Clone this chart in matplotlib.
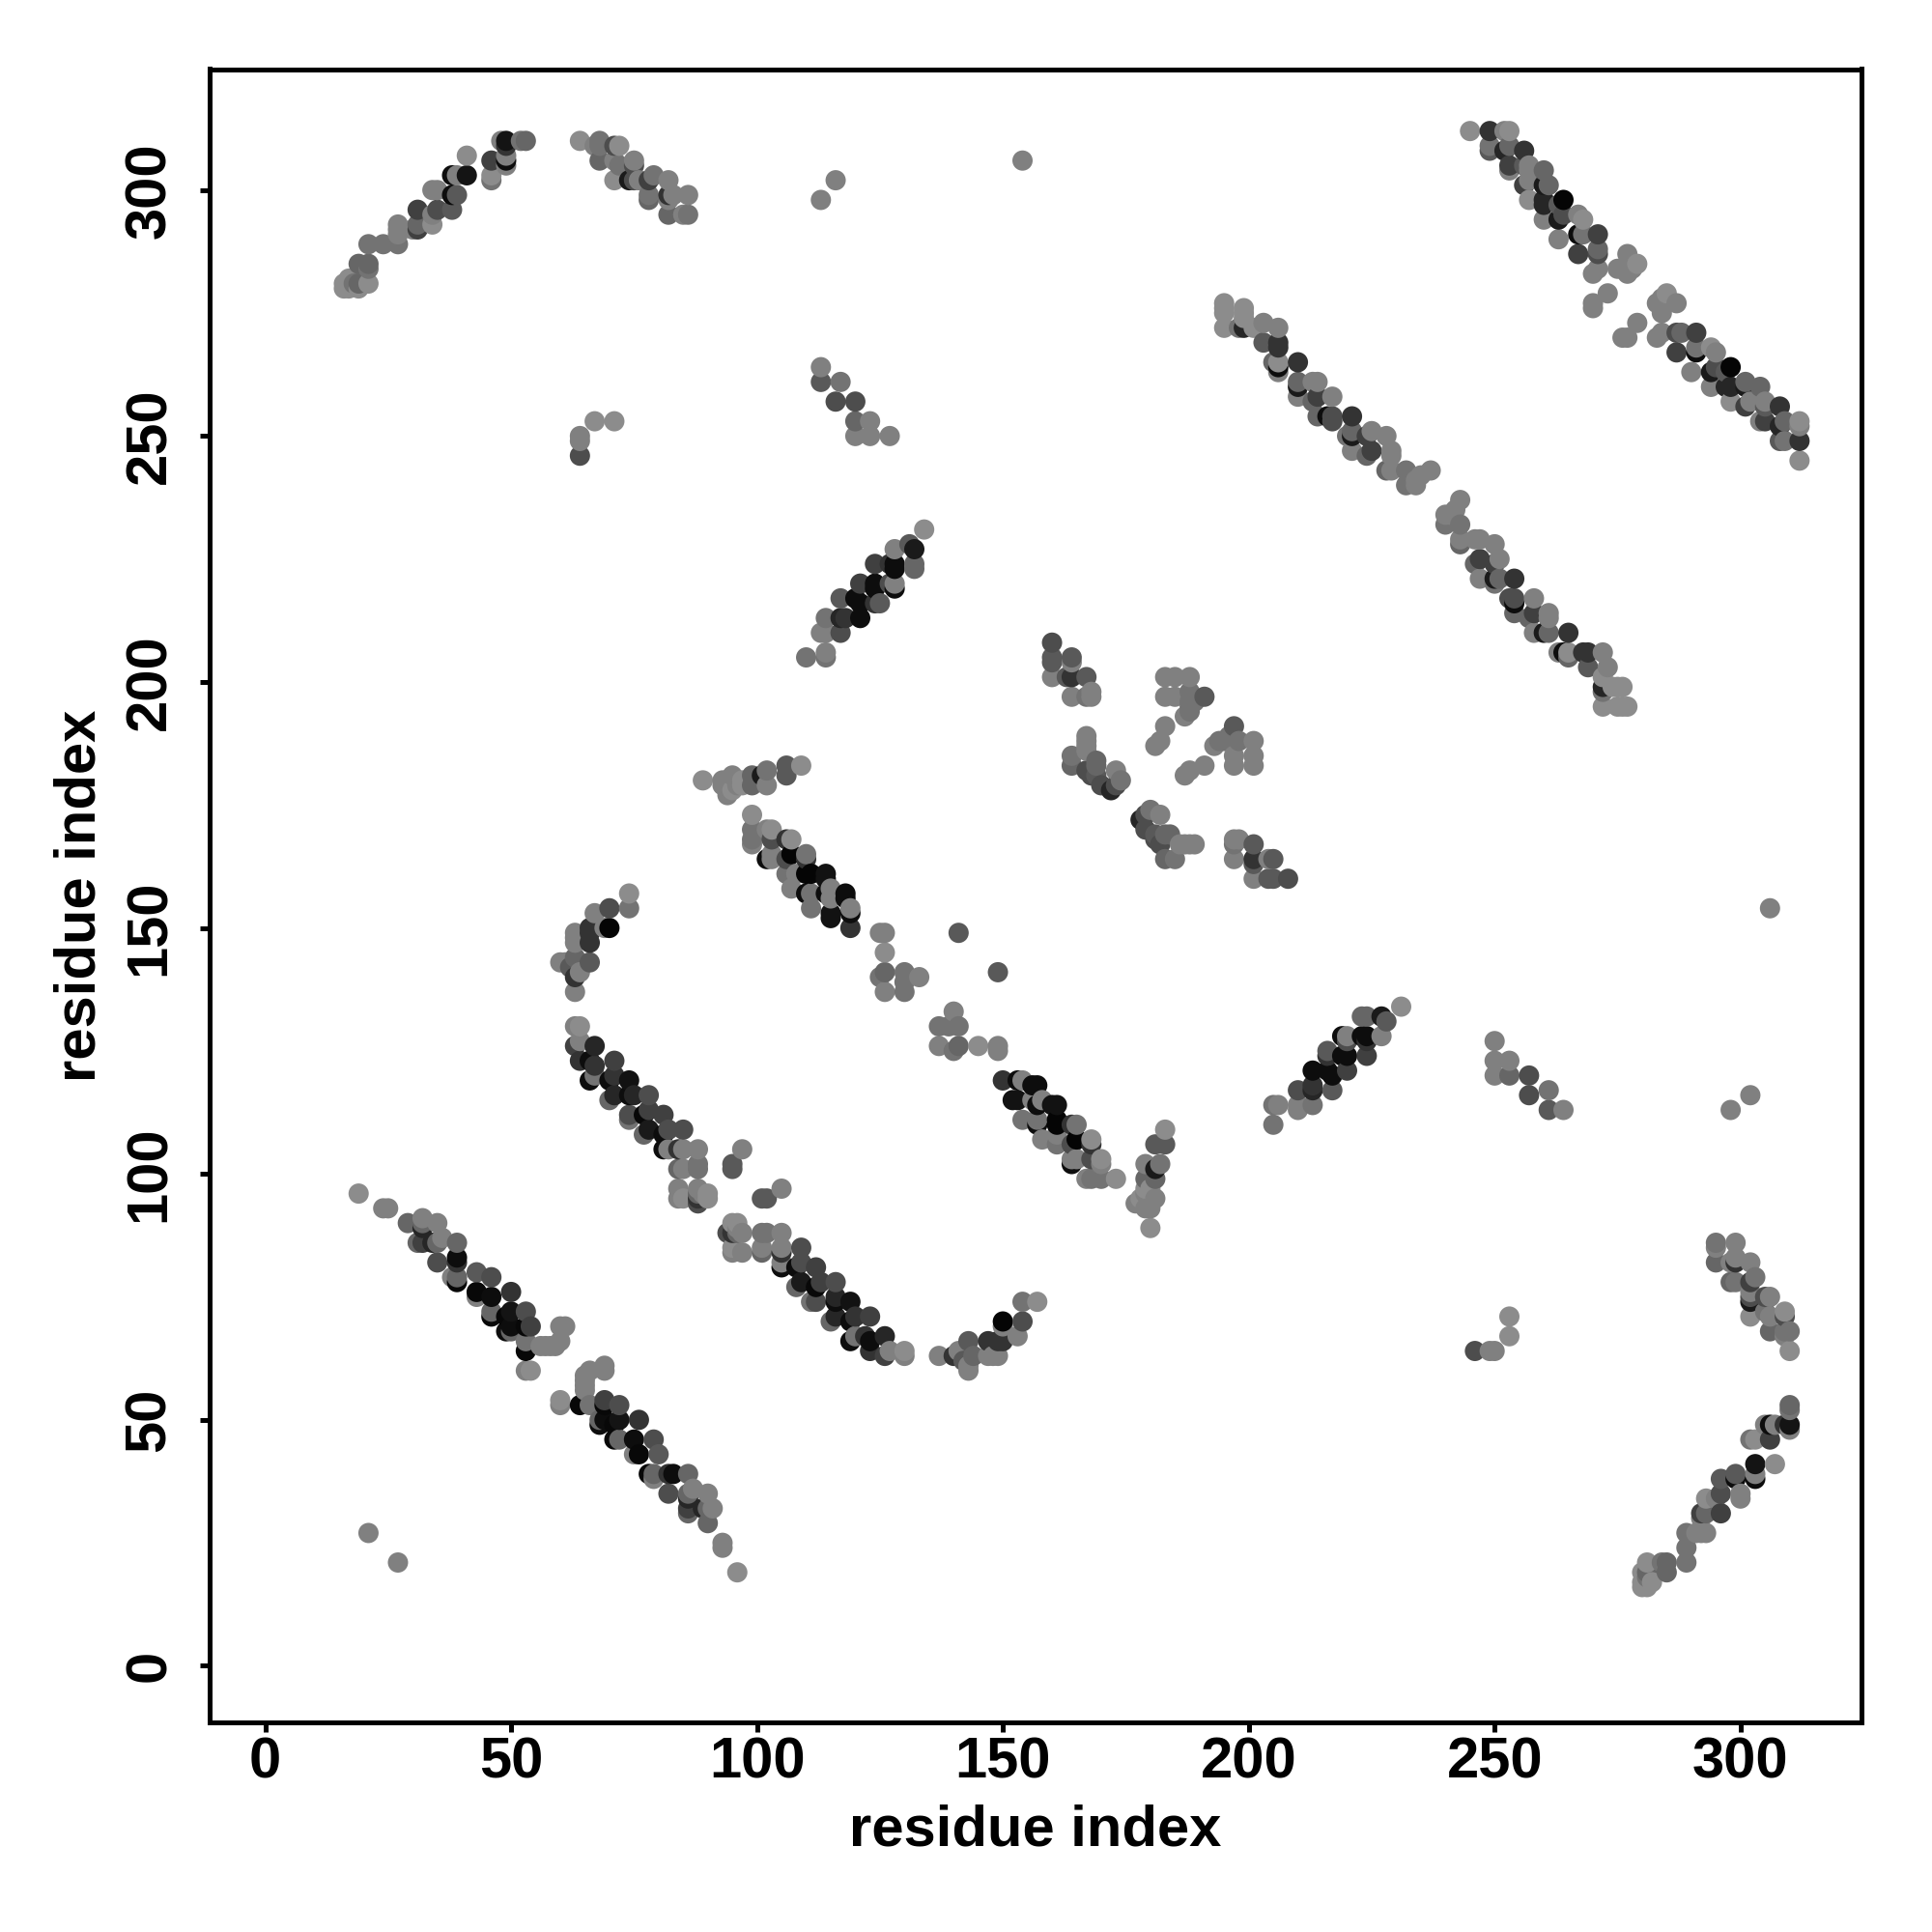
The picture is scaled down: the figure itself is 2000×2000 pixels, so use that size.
import numpy as np
import matplotlib
matplotlib.use("Agg")
import matplotlib.pyplot as plt

plt.rcParams["font.family"] = ["Liberation Sans", "DejaVu Sans"]

TICKS = [0, 50, 100, 150, 200, 250, 300]

strand_n_c = [
    (19, 96, .55), (24, 93, .5), (25, 93, .5), (29, 90, .4), (32, 91, .5), (32, 90, .4), (32, 89, .15),
    (35, 90, .5), (31, 86, .4), (32, 86, .25), (36, 87, .5), (35, 86, .4), (34, 86, .15), (39, 86, .4),
    (39, 83, .05), (39, 82, .2), (35, 82, .3), (39, 79, .4), (38, 79, .5), (39, 78, .03), (43, 80, .35),
    (43, 76, .03), (43, 75, .5), (46, 79, .3), (46, 75, .05), (46, 72, .4), (46, 71, .03), (50, 76, .2),
    (50, 72, .08), (49, 71, .03), (53, 72, .3), (53, 69, .03), (54, 69, .25), (49, 68, .05), (50, 69, .05),
    (50, 68, .4), (53, 66, .45), (53, 64, .03), (56, 65, .5), (57, 65, .5), (58, 65, .5), (59, 65, .5),
    (60, 66, .5), (60, 69, .5), (61, 69, .5), (53, 60, .5), (54, 60, .55),
]
strand_b_c = [
    (63, 130, .5), (64, 130, .55), (64, 127, .5), (63, 126, .25), (67, 126, .15), (64, 123, .2), (67, 122, .2),
    (66, 123, .05), (71, 123, .25), (67, 120, .45), (66, 119, .05), (71, 120, .2), (70, 119, .05), (74, 119, .07),
    (71, 116, .15), (70, 115, .4), (74, 116, .05), (75, 116, .15), (78, 116, .3), (74, 112, .3), (74, 111, .45),
    (78, 113, .25), (77, 112, .03), (81, 112, .25), (78, 109, .1), (77, 108, .4), (82, 109, .3), (81, 108, .05),
    (85, 109, .3), (81, 105, .05), (82, 105, .5), (84, 105, .2), (85, 105, .5), (88, 105, .5), (85, 101, .5),
    (84, 101, .4), (88, 102, .45), (88, 101, .45), (95, 102, .35), (95, 101, .35), (97, 105, .5), (84, 97, .5),
    (84, 95, .5), (85, 95, .55), (88, 97, .5), (88, 96, .4), (88, 94, .3), (88, 95, .2), (90, 96, .55),
    (90, 95, .55), (89, 96, .5),
]
strand_a_d = [
    (60, 143, .5), (61, 143, .5), (62, 142, .35), (63, 149, .5), (63, 148, .5), (63, 147, .5), (63, 144, .4),
    (63, 140, .2), (63, 137, .5), (64, 141, .5), (66, 150, .2), (66, 149, .2), (66, 147, .2), (66, 143, .35),
    (67, 153, .5), (69, 150, .5), (70, 154, .3), (70, 150, .02), (74, 157, .55), (74, 154, .45),
]
strand_e_k = [
    (89, 180, .55), (93, 180, .5), (93, 179, .5), (94, 177, .5), (95, 181, .5), (95, 178, .55), (96, 179, .5),
    (97, 180, .55), (97, 179, .55), (99, 181, .4), (99, 179, .4), (101, 181, .1), (102, 182, .45), (102, 179, .5),
    (106, 183, .35), (106, 181, .35), (109, 183, .55),
]
strand_central = [
    (99, 173, .55), (99, 170, .45), (99, 168, .45), (99, 167, .5), (102, 170, .5), (103, 170, .55), (103, 168, .3),
    (103, 165, .5), (102, 164, .05), (103, 164, .5), (106, 168, .2), (107, 168, .55), (107, 165, .02), (106, 164, .3),
    (110, 165, .45), (110, 164, .2), (106, 161, .45), (107, 158, .5), (110, 161, .02), (111, 161, .02), (108, 161, .5),
    (114, 161, .07), (114, 160, .07), (110, 157, .05), (111, 157, .45), (111, 154, .45), (115, 158, .5), (114, 157, .05),
    (115, 156, .5), (115, 153, .07), (115, 152, .07), (118, 157, .05), (118, 156, .05), (119, 154, .5), (119, 153, .05),
    (119, 150, .2), (125, 149, .5), (126, 149, .5), (126, 145, .55), (126, 141, .4), (126, 137, .5), (125, 140, .45),
    (130, 141, .45), (130, 139, .45), (130, 137, .45), (133, 140, .5), (141, 149, .35),
]
helix_f_m = [
    (110, 205, .45), (114, 206, .5), (114, 205, .45), (113, 210, .5), (114, 210, .5), (117, 210, .3), (114, 213, .45),
    (117, 213, .15), (118, 213, .2), (121, 213, .05), (117, 217, .35), (120, 217, .05), (121, 216, .05), (125, 216, .35),
    (124, 216, .2), (121, 220, .25), (124, 220, .05), (124, 219, .05), (128, 220, .5), (128, 219, .05), (127, 220, .3),
    (124, 224, .25), (128, 224, .05), (128, 223, .05), (127, 224, .2), (128, 227, .5), (131, 228, .35), (132, 227, .1),
    (132, 224, .4), (132, 223, .4), (134, 231, .55),
]
# crossing strands in the middle of the map
cross_nw = [
    (160, 208, .3), (160, 205, .35), (160, 204, .35), (164, 205, .35), (164, 204, .5), (160, 201, .5), (164, 201, .2),
    (163, 201, .35), (167, 201, .35), (164, 197, .5), (167, 197, .45), (168, 197, .5), (168, 198, .5), (167, 189, .5),
    (167, 188, .5), (167, 187, .5), (167, 186, .5), (164, 185, .45), (164, 183, .4), (169, 184, .4), (169, 183, .4),
    (167, 182, .3), (168, 181, .3), (169, 181, .35), (170, 179, .3), (173, 182, .5), (172, 178, .15), (174, 180, .45),
    (173, 179, .3),
]
cross_ne = [
    (183, 201, .5), (185, 201, .5), (188, 201, .5), (183, 197, .5), (185, 197, .5), (188, 198, .45), (188, 196, .45),
    (191, 197, .35), (189, 196, .45), (188, 195, .45), (187, 193, .5), (188, 194, .45), (183, 191, .5), (181, 187, .5),
    (182, 188, .5),
]
strand_long_g = [
    (195, 277, .55), (195, 276, .55), (195, 275, .55), (195, 272, .55), (199, 276, .55), (199, 275, .55), (199, 274, .55),
    (198, 272, .45), (199, 272, .15), (201, 272, .55), (203, 273, .5), (203, 269, .35), (206, 272, .5), (206, 269, .2),
    (206, 268, .2), (206, 265, .55), (206, 264, .05), (205, 265, .4), (206, 263, .5), (210, 265, .2), (210, 261, .4),
    (210, 260, .1), (210, 258, .5), (213, 261, .5), (214, 261, .5), (214, 258, .25), (213, 257, .4), (214, 254, .4),
    (217, 258, .5), (217, 254, .3), (216, 254, .05), (217, 253, .3), (221, 254, .2), (221, 251, .4), (221, 250, .1),
    (220, 250, .45), (221, 247, .5), (224, 250, .25), (225, 251, .5), (228, 250, .5), (225, 247, .25), (224, 246, .4),
    (229, 247, .5), (229, 246, .5), (228, 243, .4), (229, 243, .5), (232, 243, .45), (232, 240, .45), (234, 241, .5),
    (234, 240, .5), (235, 242, .5), (237, 243, .5),
]
strand_long_h = [
    (245, 312, .55), (249, 312, .2), (249, 309, .45), (249, 308, .35), (252, 312, .5), (253, 312, .55), (253, 309, .4),
    (252, 308, .15), (256, 308, .2), (253, 305, .25), (253, 304, .5), (256, 305, .35), (257, 305, .5), (260, 304, .4),
    (257, 304, .5), (256, 301, .25), (257, 302, .5), (261, 301, .4), (260, 301, .1), (257, 298, .55), (260, 298, .15),
    (260, 297, .15), (264, 298, .02), (263, 297, .35), (260, 294, .5), (263, 294, .1), (264, 295, .3), (267, 295, .5),
    (268, 294, .55), (267, 291, .05), (268, 291, .45), (271, 291, .25), (263, 290, .5), (267, 287, .25), (271, 288, .4),
    (271, 287, .3), (270, 283, .5), (271, 284, .5), (277, 287, .5), (275, 284, .5), (277, 283, .5), (278, 284, .5),
    (279, 285, .55), (273, 279, .5), (270, 277, .5), (270, 276, .5),
]
arc_n_term = [
    (41, 307, .55), (41, 303, .08), (38, 303, .05), (39, 303, .5), (39, 299, .35), (38, 299, .05), (35, 300, .5),
    (34, 300, .5), (38, 296, .35), (35, 296, .3), (34, 295, .5), (31, 296, .25), (31, 293, .4), (31, 292, .25),
    (30, 292, .5), (34, 293, .55), (27, 293, .5), (27, 292, .5), (27, 291, .5), (27, 289, .45), (24, 289, .45),
    (21, 289, .45), (19, 285, .4), (21, 285, .4), (21, 284, .45), (17, 282, .55), (16, 281, .55), (16, 280, .55),
    (17, 280, .55), (19, 280, .55), (19, 281, .4), (21, 281, .55), (18, 281, .45), (46, 306, .25), (46, 303, .55),
    (46, 302, .45), (49, 310, .08), (48, 310, .5), (49, 309, .2), (49, 307, .5), (49, 306, .05), (49, 305, .5),
    (52, 310, .45), (53, 310, .4),
]
arc_c_term = [
    (64, 310, .55), (68, 310, .45), (67, 309, .5), (68, 309, .45), (68, 306, .4), (71, 309, .3), (72, 309, .55),
    (71, 306, .5), (72, 305, .45), (71, 302, .55), (75, 306, .5), (75, 305, .3), (75, 302, .3), (74, 302, .1),
    (76, 302, .5), (78, 302, .25), (79, 303, .45), (78, 299, .45), (78, 298, .4), (82, 302, .5), (82, 299, .2),
    (83, 299, .5), (82, 298, .5), (86, 299, .5), (82, 295, .4), (85, 295, .5), (86, 295, .45),
]
patch_a = [
    (113, 264, .5), (113, 261, .35), (117, 261, .45), (116, 257, .3), (120, 257, .3), (120, 253, .4), (120, 250, .5),
    (123, 253, .5), (123, 250, .5), (127, 250, .5),
]
patch_b = [(64, 250, .5), (64, 249, .5), (64, 246, .3), (67, 253, .55), (71, 253, .55)]
lone_contacts = [(113, 298, .5), (116, 302, .5), (154, 306, .5), (21, 27, .5)]

groups = [
    strand_n_c, strand_b_c, strand_a_d, strand_e_k, strand_central, helix_f_m, cross_nw, cross_ne,
    strand_long_g, strand_long_h, arc_n_term, arc_c_term, patch_a, patch_b, lone_contacts,
]
half = np.array([row for group in groups for row in group])
xs = np.concatenate([half[:, 0], half[:, 1]])
ys = np.concatenate([half[:, 1], half[:, 0]])
greys = np.concatenate([half[:, 2], half[:, 2]])

# later residues sit on top, the same way the original was overplotted
order = np.lexsort((ys, xs))

fig = plt.figure(figsize=(20, 20), dpi=100)
ax = fig.add_axes([217 / 2000, 1 - 1783 / 2000, (1927 - 217) / 2000, (1783 - 71.5) / 2000])
ax.scatter(xs[order], ys[order], s=228, c=[str(g) for g in greys[order]], linewidths=0, clip_on=True)

ax.set_xlim(-11.3, 324.6)
ax.set_ylim(-11.5, 324.6)
ax.set_xticks(TICKS)
ax.set_yticks(TICKS)
ax.tick_params(axis="x", length=7.5, width=3.6, labelsize=43, pad=3)
ax.tick_params(axis="y", length=7.5, width=3.6, labelsize=43, pad=17)
for label in ax.get_xticklabels():
    label.set_fontweight("bold")
for label in ax.get_yticklabels():
    label.set_fontweight("bold")
    label.set_rotation(90)
    label.set_verticalalignment("center")
for spine in ax.spines.values():
    spine.set_linewidth(3.6)

ax.set_xlabel("residue index", fontsize=43, fontweight="bold", labelpad=10.5)
ax.set_ylabel("residue index", fontsize=43, fontweight="bold", labelpad=12.4)

fig.savefig("out.png", dpi=100)
